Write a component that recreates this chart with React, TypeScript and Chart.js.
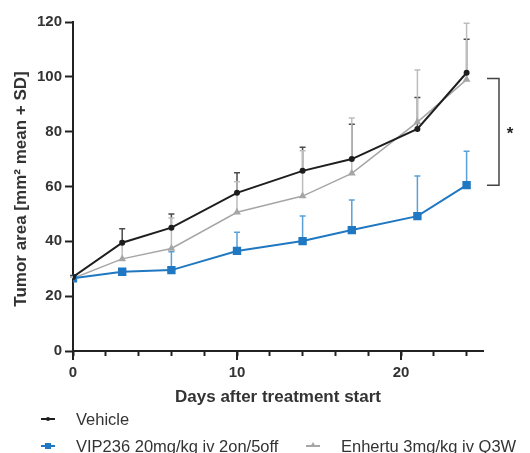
import React, { useEffect, useRef } from "react";
import { Chart, registerables } from "chart.js";

Chart.register(...registerables);

// ---- data ----
const days = [0, 3, 6, 10, 14, 17, 21, 24];
const vehicleMean = [27, 39.5, 45, 57.7, 65.7, 70, 81, 101.5];
const vehicleSD = [0.5, 5.1, 5, 7.3, 8.6, 12.7, 11.5, 12.2];
const vipMean = [26.5, 28.9, 29.5, 36.5, 40.1, 44.1, 49.2, 60.5];
const vipSD = [0.5, 1, 6.7, 6.8, 9.1, 11, 14.6, 12.4];
const enhertuMean = [26.5, 33.6, 37.4, 50.6, 56.5, 64.8, 83.5, 99];
const enhertuSD = [0.5, 6.5, 11.1, 11.1, 16.5, 20.2, 19, 20.5];
const seriesNames = ["Vehicle", "VIP236 20mg/kg iv 2on/5off", "Enhertu 3mg/kg iv Q3W"];
const xMajorTicks = [0, 10, 20];
const yTickValues = [0, 20, 40, 60, 80, 100, 120];
const yTitle = "Tumor area [mm² mean + SD]";
const xTitle = "Days after treatment start";
const significance = "*";

const FONT = "'Liberation Sans', Arial, sans-serif";
const COLORS = ["#1e1e1e", "#1f78c1", "#a6a6a6"];
const ERR_COLORS = ["#4a4a4a", "#5aa0d6", "#bdbdbd"];

const extrasPlugin = {
  id: "extras",
  beforeDatasetsDraw(chart: any) {
    const ctx = chart.ctx;
    const xs = chart.scales.x;
    const ys = chart.scales.y;
    const sds = [vehicleSD, vipSD, enhertuSD];
    const order = [1, 0, 2];
    ctx.save();
    order.forEach((di) => {
      const ds = chart.data.datasets[di];
      ctx.strokeStyle = ERR_COLORS[di];
      ctx.lineWidth = 1.5;
      ds.data.forEach((p: any, i: number) => {
        const x = xs.getPixelForValue(p.x);
        const y0 = ys.getPixelForValue(p.y);
        const y1 = ys.getPixelForValue(p.y + sds[di][i]);
        ctx.beginPath();
        ctx.moveTo(x, y0);
        ctx.lineTo(x, y1);
        ctx.moveTo(x - 3, y1);
        ctx.lineTo(x + 3, y1);
        ctx.stroke();
      });
    });
    ctx.restore();
  },
  afterDraw(chart: any) {
    const ctx = chart.ctx;
    const xs = chart.scales.x;
    const ys = chart.scales.y;
    const area = chart.chartArea;
    ctx.save();
    // major x ticks longer
    ctx.strokeStyle = "#222";
    ctx.lineWidth = 2;
    xMajorTicks.forEach((v) => {
      const x = xs.getPixelForValue(v);
      ctx.beginPath();
      ctx.moveTo(x, area.bottom);
      ctx.lineTo(x, area.bottom + 9);
      ctx.stroke();
    });
    // significance bracket
    const last = days.length - 1;
    const yTop = ys.getPixelForValue(Math.max(enhertuMean[last], 99.4));
    const yBot = ys.getPixelForValue(vipMean[last]);
    const xL = area.right + 4;
    const xR = area.right + 16;
    ctx.strokeStyle = "#444";
    ctx.lineWidth = 1.5;
    ctx.beginPath();
    ctx.moveTo(xL, yTop);
    ctx.lineTo(xR, yTop);
    ctx.lineTo(xR, yBot);
    ctx.lineTo(xL, yBot);
    ctx.stroke();
    ctx.fillStyle = "#222";
    ctx.font = `bold 17px ${FONT}`;
    ctx.textAlign = "center";
    ctx.textBaseline = "middle";
    ctx.fillText(significance, xR + 11, (yTop + yBot) / 2 + 3);
    // y title
    ctx.translate(21, 189);
    ctx.rotate(-Math.PI / 2);
    ctx.fillStyle = "#333";
    ctx.font = `bold 17px ${FONT}`;
    ctx.fillText(yTitle, 0, 0);
    ctx.restore();
  },
};

function LegendItem({ color, marker, label, left, top }: any) {
  let m: any = null;
  if (marker === "circle") {
    m = <div style={{ position: "absolute", left: 5, top: -2, width: 4, height: 4, borderRadius: 2, background: color }} />;
  } else if (marker === "rect") {
    m = <div style={{ position: "absolute", left: 4, top: -3, width: 6, height: 6, background: color }} />;
  } else {
    m = (
      <div
        style={{
          position: "absolute",
          left: 4,
          top: -4,
          width: 0,
          height: 0,
          borderLeft: "3px solid transparent",
          borderRight: "3px solid transparent",
          borderBottom: `5px solid ${color}`,
        }}
      />
    );
  }
  return (
    <div style={{ position: "absolute", left, top, height: 20, whiteSpace: "nowrap" }}>
      <div style={{ position: "absolute", left: 0, top: 9, width: 14, height: 0 }}>
        <div style={{ position: "absolute", left: 0, top: -1, width: 14, height: 2, background: color }} />
        {m}
      </div>
      <div style={{ position: "absolute", left: 35, top: 0, fontFamily: FONT, fontSize: 16.5, color: "#333", lineHeight: "19px" }}>
        {label}
      </div>
    </div>
  );
}

export default function App() {
  const ref = useRef<HTMLCanvasElement>(null);
  useEffect(() => {
    document.body.style.margin = "0";
    const mk = (ys: number[]) => days.map((d, i) => ({ x: d, y: ys[i] }));
    const chart = new Chart(ref.current as HTMLCanvasElement, {
      type: "line",
      data: {
        datasets: [
          {
            label: seriesNames[0],
            data: mk(vehicleMean),
            borderColor: COLORS[0],
            backgroundColor: COLORS[0],
            borderWidth: 2,
            pointStyle: "circle",
            pointRadius: 2,
            order: 1,
          },
          {
            label: seriesNames[1],
            data: mk(vipMean),
            borderColor: COLORS[1],
            backgroundColor: COLORS[1],
            borderWidth: 2,
            pointStyle: "rect",
            pointRadius: 4.5,
            order: 2,
          },
          {
            label: seriesNames[2],
            data: mk(enhertuMean),
            borderColor: COLORS[2],
            backgroundColor: COLORS[2],
            borderWidth: 1.5,
            pointStyle: "triangle",
            pointRadius: 3,
            order: 3,
          },
        ],
      },
      options: {
        responsive: false,
        animation: false,
        events: [],
        layout: { padding: { left: 0, top: 22, right: 47, bottom: 39 } },
        plugins: { legend: { display: false }, tooltip: { enabled: false } },
        scales: {
          x: {
            type: "linear",
            min: 0,
            max: 25,
            afterFit: (s: any) => {
              s.height = 63;
            },
            grid: { drawOnChartArea: false, drawTicks: true, tickLength: 5, tickColor: "#222", tickWidth: 2 },
            border: { display: true, color: "#222", width: 2 },
            ticks: {
              stepSize: 2,
              includeBounds: false,
              autoSkip: false,
              maxRotation: 0,
              padding: 8,
              color: "#333",
              font: { family: FONT, size: 15, weight: "bold" },
              callback: (v: any) => (xMajorTicks.includes(Number(v)) ? String(v) : ""),
            },
            title: {
              display: true,
              text: xTitle,
              color: "#333",
              font: { family: FONT, size: 17, weight: "bold" },
              padding: { top: 4, bottom: 6 },
            },
          },
          y: {
            type: "linear",
            min: 0,
            max: 120,
            afterFit: (s: any) => {
              s.width = 73;
            },
            afterBuildTicks: (s: any) => {
              s.ticks = yTickValues.map((v) => ({ value: v }));
            },
            grid: { drawOnChartArea: false, drawTicks: true, tickLength: 8, tickColor: "#222", tickWidth: 2 },
            border: { display: true, color: "#222", width: 2 },
            ticks: {
              padding: 3,
              color: "#333",
              font: { family: FONT, size: 15, weight: "bold" },
            },
          },
        },
      },
      plugins: [extrasPlugin],
    });
    return () => chart.destroy();
  }, []);

  return (
    <div style={{ position: "relative", width: 530, height: 453, background: "#fff" }}>
      <canvas ref={ref} width={530} height={453} style={{ position: "absolute", left: 0, top: 0 }} />
      <LegendItem color={COLORS[0]} marker="circle" label={seriesNames[0]} left={41} top={410} />
      <LegendItem color={COLORS[1]} marker="rect" label={seriesNames[1]} left={41} top={437} />
      <LegendItem color={COLORS[2]} marker="triangle" label={seriesNames[2]} left={306} top={437} />
    </div>
  );
}
